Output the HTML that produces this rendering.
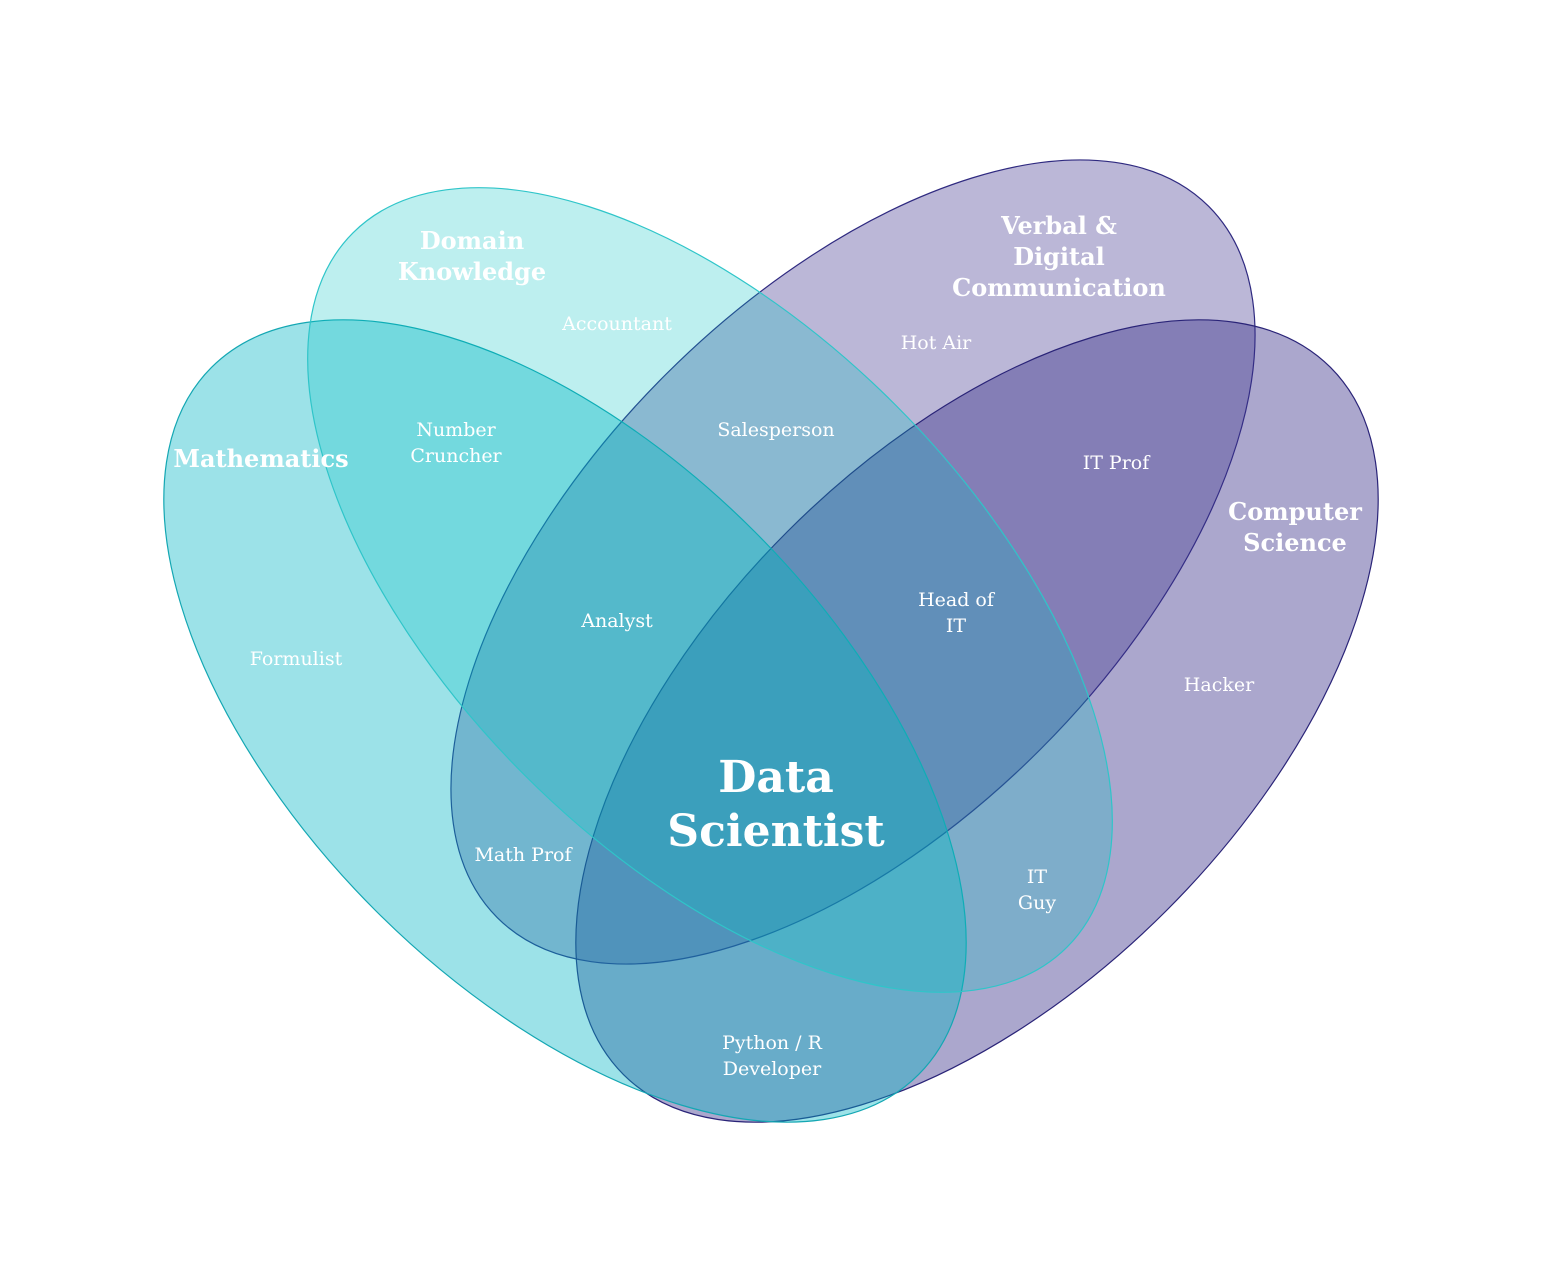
<!DOCTYPE html>
<html><head><meta charset="utf-8"><style>
html,body{margin:0;padding:0;background:#fff;}
svg{display:block;}
text{font-family:"DejaVu Serif","Liberation Serif",serif;fill:#fff;text-anchor:middle;}
.l{font-size:19px;}
.t{font-size:24px;font-weight:bold;}
</style></head><body>
<svg width="1541" height="1285" viewBox="0 0 1541 1285" xmlns="http://www.w3.org/2000/svg">
<ellipse cx="853" cy="562" rx="503" ry="265" transform="rotate(-45 853 562)" fill="rgb(60,50,140)" fill-opacity="0.35" stroke="#2f2a80" stroke-width="1.2"/>
<ellipse cx="977" cy="721" rx="500" ry="268" transform="rotate(-45 977 721)" fill="rgb(60,50,140)" fill-opacity="0.43" stroke="#2a2478" stroke-width="1.2"/>
<ellipse cx="565" cy="721" rx="500" ry="268" transform="rotate(45 565 721)" fill="rgb(0,180,195)" fill-opacity="0.39" stroke="#14a7b3" stroke-width="1.2"/>
<ellipse cx="710" cy="590" rx="505" ry="262" transform="rotate(45 710 590)" fill="rgb(0,195,195)" fill-opacity="0.26" stroke="#2fc5c9" stroke-width="1.2"/>

<text class="t" x="472" y="249">Domain</text>
<text class="t" x="472" y="280">Knowledge</text>
<text class="t" x="1059" y="234">Verbal &amp;</text>
<text class="t" x="1059" y="265">Digital</text>
<text class="t" x="1059" y="296">Communication</text>
<text class="t" x="261" y="467">Mathematics</text>
<text class="t" x="1295" y="520">Computer</text>
<text class="t" x="1295" y="551">Science</text>

<text class="l" x="617" y="330">Accountant</text>
<text class="l" x="936" y="349">Hot Air</text>
<text class="l" x="456" y="436">Number</text>
<text class="l" x="456" y="462">Cruncher</text>
<text class="l" x="776" y="436">Salesperson</text>
<text class="l" x="1116" y="469">IT Prof</text>
<text class="l" x="617" y="627">Analyst</text>
<text class="l" x="956" y="606">Head of</text>
<text class="l" x="956" y="632">IT</text>
<text class="l" x="296" y="665">Formulist</text>
<text class="l" x="1219" y="691">Hacker</text>
<text class="l" x="523" y="861">Math Prof</text>
<text class="l" x="1037" y="883">IT</text>
<text class="l" x="1037" y="909">Guy</text>
<text class="l" x="772" y="1049">Python / R</text>
<text class="l" x="772" y="1075">Developer</text>
<text x="776" y="792" style="font-size:44px;font-weight:bold">Data</text>
<text x="776" y="846" style="font-size:44px;font-weight:bold">Scientist</text>
</svg>
</body></html>
